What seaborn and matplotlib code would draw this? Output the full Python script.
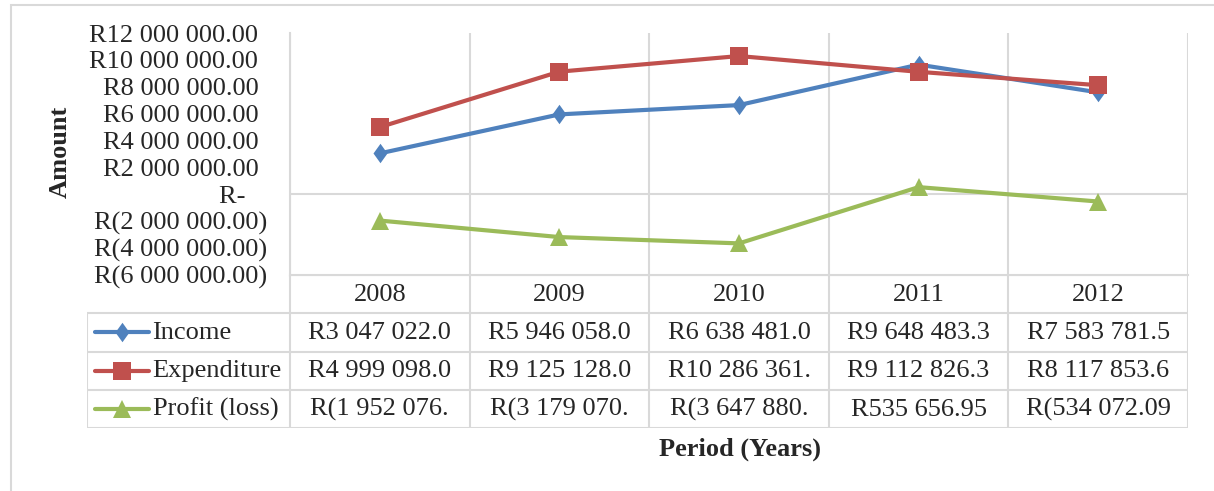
import matplotlib
matplotlib.use("Agg")
import matplotlib.pyplot as plt
import seaborn as sns
import pandas as pd
from matplotlib.patches import Rectangle
from matplotlib.path import Path

years = ["2008", "2009", "2010", "2011", "2012"]
income = [3047022.00, 5946058.00, 6638481.00, 9648483.30, 7583781.52]
expenditure = [4999098.00, 9125128.00, 10286361.00, 9112826.35, 8117853.61]
profit = [-1952076.00, -3179070.00, -3647880.00, 535656.95, -534072.09]
series_names = ["Income", "Expenditure", "Profit (loss)"]
y_ticks = [-6e6, -4e6, -2e6, 0, 2e6, 4e6, 6e6, 8e6, 10e6, 12e6]

# excel-like diamond (taller than wide)
diamond = Path([(0, 1), (0.72, 0), (0, -1), (-0.72, 0), (0, 1)],
               [Path.MOVETO, Path.LINETO, Path.LINETO, Path.LINETO, Path.CLOSEPOLY])

colors = {"Income": "#4F81BD", "Expenditure": "#C0504D", "Profit (loss)": "#9BBB59"}
markers = {"Income": diamond, "Expenditure": "s", "Profit (loss)": "^"}
msizes = {"Income": 14, "Expenditure": 12.5, "Profit (loss)": 13.5}
grid_c = "#D9D9D9"
FS = 19
LW = 3

df = pd.DataFrame({
    "year": years * 3,
    "value": income + expenditure + profit,
    "series": [s for s in series_names for _ in years],
})


def acct(v, tick=False):
    # Excel accounting style "R1 234.00" / "R(1 234.00)" / "R-"
    if v == 0:
        return "R-  \u2004" if tick else "R-"
    s = f"{abs(v):,.2f}".replace(",", " ")
    if v < 0:
        return f"R({s})"
    return f"R{s}\u2004" if tick else f"R{s}"


sns.set_theme(style="white")
plt.rcParams["font.family"] = ["Liberation Serif", "DejaVu Serif"]

W, H = 1214, 491
fig = plt.figure(figsize=(W / 100, H / 100), dpi=100)

# outer chart frame
fig.patches.append(Rectangle((11 / W, -0.1), 1.2, 1 - 5 / H + 0.1, transform=fig.transFigure,
                             fill=False, edgecolor=grid_c, linewidth=1.5))

left, right = 290, 1188
top, mid, bot = 33, 275, 428
ax = fig.add_axes([left / W, 1 - mid / H, (right - left) / W, (mid - top) / H])

sns.lineplot(data=df, x="year", y="value", hue="series", style="series",
             palette=colors, markers=markers, dashes=False, linewidth=LW,
             markeredgewidth=0, ax=ax, legend=False, sort=False)
for line, name in zip(ax.lines, series_names):
    line.set_markersize(msizes[name])

ax.set_xlim(-0.5, 4.5)
ax.set_ylim(-6e6, 12e6)
ax.set_yticks(y_ticks)
ax.set_yticklabels([acct(v, tick=True) for v in y_ticks], fontsize=FS)
ax.tick_params(axis="y", length=0, pad=16.5)
ax.set_xticks([])
for b in range(6):
    ax.axvline(b - 0.5, color=grid_c, lw=1.5, zorder=0)
ax.axhline(0, color=grid_c, lw=1.5, zorder=0)
for sp in ["top", "right"]:
    ax.spines[sp].set_visible(False)
for sp in ["left", "bottom"]:
    ax.spines[sp].set_color(grid_c)
    ax.spines[sp].set_linewidth(1.5)
ax.set_xlabel("")
ax.set_ylabel("")

# data table underneath
col_w = (right - left) / 5
tleft = 87
x0 = -0.5 - (left - tleft) / col_w
tax = fig.add_axes([tleft / W, 1 - bot / H, (right - tleft) / W, (bot - mid) / H])
tax.set_xlim(x0, 4.5)
tax.set_ylim(4, 0)
tax.axis("off")
tax.hlines(0, -0.5, 4.5, color=grid_c, lw=1.5)
tax.hlines([1, 2, 3, 4], x0, 4.5, color=grid_c, lw=1.5)
tax.vlines([b - 0.5 for b in range(6)], 0, 4, color=grid_c, lw=1.5)
tax.vlines(x0, 1, 4, color=grid_c, lw=1.5)

for i, yr in enumerate(years):
    tax.text(i, 0.52, yr, ha="center", va="center", fontsize=FS)

for r, (name, vals) in enumerate(zip(series_names, [income, expenditure, profit]), start=1):
    key_x = [x0 + 0.045, x0 + 0.345]
    tax.plot(key_x, [r + 0.5] * 2, color=colors[name], lw=LW, solid_capstyle="round")
    tax.plot([sum(key_x) / 2], [r + 0.5], marker=markers[name], color=colors[name],
             markersize=msizes[name], markeredgewidth=0)
    tax.text(x0 + 0.365, r + 0.52, name, ha="left", va="center", fontsize=FS)
    for i, v in enumerate(vals):
        # cell text cut off at the column width, as in the spreadsheet
        tax.text(i, r + 0.52, acct(v)[:12], ha="center", va="center", fontsize=FS)

fig.text(60 / W, 1 - 152 / H, "Amount", rotation=90, ha="center", va="center",
         fontsize=FS, fontweight="bold")
fig.text(740 / W, 1 - 449 / H, "Period (Years)", ha="center", va="center",
         fontsize=FS, fontweight="bold")

fig.savefig("out.png", dpi=100)
